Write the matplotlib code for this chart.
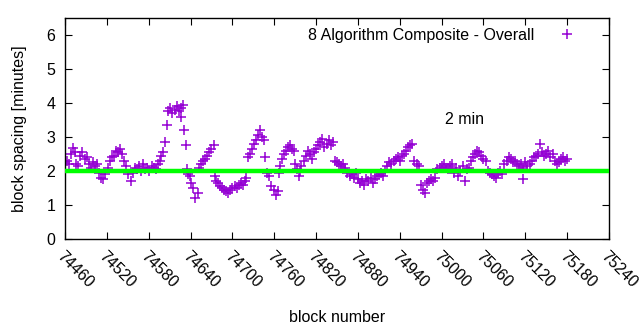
import numpy as np
import matplotlib
matplotlib.use("Agg")
import matplotlib.pyplot as plt

# block number / block spacing in minutes
blocks = [
    74460, 74463, 74466, 74468, 74471, 74474, 74476, 74479, 74482, 74485,
    74488, 74491, 74494, 74497, 74500, 74503, 74506, 74509, 74512, 74515,
    74518, 74521, 74524, 74527, 74530, 74533, 74536, 74539, 74542, 74545,
    74548, 74551, 74554, 74557, 74560, 74563, 74566, 74569, 74572, 74575,
    74578, 74581, 74584, 74587, 74590, 74593, 74596, 74598, 74600, 74603,
    74606, 74608, 74611, 74614, 74617, 74620, 74623, 74626, 74627, 74629,
    74631, 74633, 74635, 74637, 74639, 74641, 74644, 74647, 74650, 74652,
    74655, 74658, 74661, 74664, 74667, 74670, 74673, 74675, 74677, 74679,
    74682, 74685, 74688, 74691, 74694, 74697, 74700, 74703, 74706, 74709,
    74712, 74715, 74718, 74720, 74722, 74725, 74728, 74731, 74734, 74736,
    74739, 74742, 74745, 74747, 74750, 74753, 74756, 74759, 74762, 74765,
    74767, 74768, 74771, 74774, 74777, 74780, 74783, 74786, 74789, 74790,
    74792, 74795, 74797, 74799, 74802, 74805, 74808, 74811, 74814, 74817,
    74820, 74823, 74826, 74829, 74832, 74835, 74838, 74841, 74844, 74847,
    74850, 74853, 74856, 74859, 74862, 74865, 74868, 74871, 74874, 74877,
    74880, 74883, 74886, 74889, 74892, 74895, 74898, 74901, 74904, 74907,
    74910, 74913, 74916, 74919, 74922, 74925, 74928, 74931, 74934, 74937,
    74940, 74943, 74946, 74949, 74952, 74955, 74958, 74961, 74964, 74967,
    74970, 74973, 74976, 74979, 74982, 74985, 74988, 74991, 74994, 74997,
    75000, 75003, 75006, 75009, 75012, 75015, 75018, 75021, 75024, 75027,
    75030, 75033, 75036, 75039, 75042, 75045, 75048, 75051, 75054, 75057,
    75060, 75063, 75066, 75069, 75072, 75075, 75078, 75081, 75084, 75087,
    75090, 75093, 75096, 75099, 75102, 75105, 75108, 75111, 75114, 75116,
    75117, 75120, 75123, 75126, 75129, 75132, 75135, 75138, 75141, 75144,
    75147, 75150, 75153, 75156, 75159, 75162, 75165, 75168, 75171, 75174,
    75177, 75180,
]
spacing = [
    2.25, 2.30, 2.20, 2.50, 2.68, 2.55, 2.20, 2.15, 2.45, 2.55,
    2.35, 2.40, 2.20, 2.10, 2.25, 2.15, 2.20, 1.95, 1.80, 1.75,
    1.90, 2.10, 2.30, 2.40, 2.45, 2.60, 2.55, 2.65, 2.50, 2.30,
    2.15, 1.90, 1.70, 1.95, 2.10, 2.05, 2.15, 2.00, 2.20, 2.05,
    2.10, 2.00, 2.15, 2.10, 2.05, 2.20, 2.30, 2.45, 2.55, 2.85,
    3.35, 3.75, 3.85, 3.70, 3.80, 3.90, 3.75, 3.85, 3.60, 3.95,
    3.20, 2.75, 2.05, 1.90, 1.85, 1.65, 1.50, 1.20, 1.35, 2.10,
    2.20, 2.30, 2.35, 2.45, 2.55, 2.65, 2.75, 1.85, 1.70, 1.65,
    1.55, 1.50, 1.45, 1.40, 1.35, 1.45, 1.50, 1.55, 1.50, 1.60,
    1.65, 1.60, 1.70, 1.80, 2.40, 2.50, 2.65, 2.80, 2.90, 3.05,
    3.20, 3.00, 2.90, 2.40, 1.95, 1.85, 1.55, 1.45, 1.30, 1.40,
    1.95, 2.15, 2.35, 2.50, 2.60, 2.70, 2.75, 2.65, 2.60, 2.20,
    2.05, 1.85, 2.00, 2.15, 2.30, 2.45, 2.60, 2.50, 2.35, 2.55,
    2.65, 2.75, 2.85, 2.95, 2.70, 2.80, 2.90, 2.75, 2.85, 2.30,
    2.25, 2.20, 2.15, 2.20, 2.10, 1.95, 1.85, 1.90, 1.80, 1.95,
    1.75, 1.65, 1.70, 1.60, 1.75, 1.70, 1.80, 1.65, 1.75, 1.85,
    1.90, 1.95, 1.85, 2.00, 2.15, 2.25, 2.20, 2.30, 2.35, 2.40,
    2.30, 2.45, 2.50, 2.60, 2.70, 2.75, 2.80, 2.30, 2.20, 2.15,
    1.60, 1.45, 1.35, 1.65, 1.70, 1.75, 1.70, 1.80, 2.05, 2.10,
    2.15, 2.20, 2.10, 2.05, 2.15, 2.20, 1.95, 2.10, 1.85, 2.00,
    2.15, 1.70, 2.05, 2.10, 2.30, 2.40, 2.50, 2.60, 2.55, 2.45,
    2.35, 2.30, 2.00, 1.95, 1.90, 1.85, 1.80, 1.95, 2.00, 1.90,
    2.20, 2.30, 2.40, 2.35, 2.25, 2.30, 2.20, 2.15, 2.20, 1.75,
    2.10, 2.25, 2.15, 2.20, 2.30, 2.40, 2.45, 2.50, 2.80, 2.55,
    2.45, 2.50, 2.60, 2.40, 2.50, 2.30, 2.20, 2.25, 2.35, 2.40,
    2.30, 2.35,
]
target = 2.0
xticks = np.arange(74460, 75241, 60)

plt.rcParams["font.family"] = ["Liberation Sans", "DejaVu Sans"]
plt.rcParams["font.size"] = 11.5

fig = plt.figure(figsize=(6.4, 3.3), dpi=100)
ax = fig.add_axes([0.1016, 0.2758, 0.85, 0.6697])

ax.plot(blocks, spacing, ls="none", marker="+", ms=7, mew=1.1, color="#9400d3",
        label="8 Algorithm Composite - Overall")
ax.axhline(target, color="#00ff00", lw=3.2, zorder=3)
ax.text(75005, 3.5, "2 min", ha="left", va="center")

ax.set_xlim(74460, 75240)
ax.set_ylim(0, 6.5)
ax.set_xticks(xticks)
ax.set_xticklabels([str(t) for t in xticks], rotation=-45, ha="left", va="top",
                   rotation_mode="anchor")
ax.set_yticks(range(0, 7))
ax.tick_params(direction="in", top=True, right=True, length=5, width=0.8, pad=7)
for s in ax.spines.values():
    s.set_linewidth(1.0)

ax.set_xlabel("block number", labelpad=14)
ax.set_ylabel("block spacing [minutes]", labelpad=14)
ax.legend(loc="upper right", frameon=False, markerfirst=False, handlelength=2.5,
          bbox_to_anchor=(0.985, 1.02))

fig.savefig("out.png", dpi=100)
